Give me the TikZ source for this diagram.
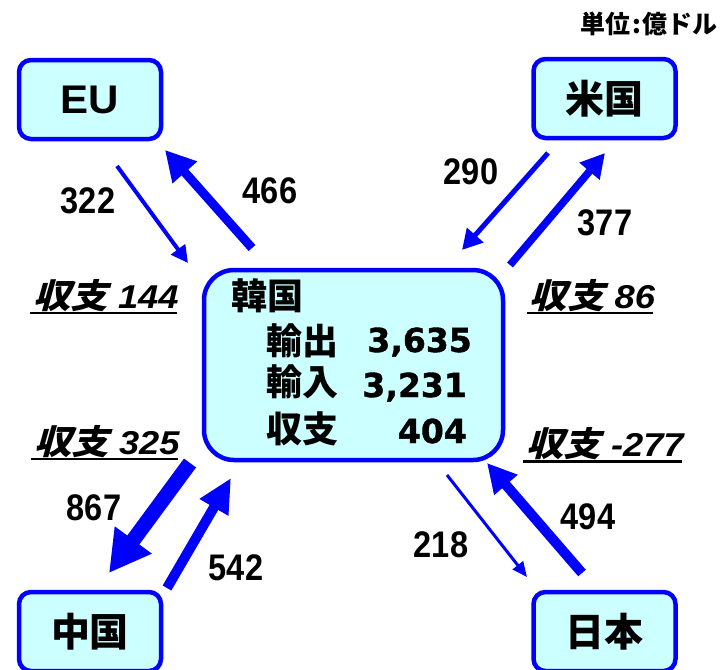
\documentclass[tikz,border=0pt]{standalone}
\usepackage{fontspec}
\usepackage{graphicx}
\setmainfont{Noto Sans CJK JP}
\newfontfamily\jpit{Noto Sans CJK JP}[FakeSlant=0.25]
\newfontfamily\lsans{Liberation Sans}
\newfontfamily\dvs{DejaVu Sans}[BoldFeatures={FakeBold=1.2}]
\usetikzlibrary{arrows.meta}
\definecolor{bblue}{HTML}{0000FF}
\definecolor{lcyan}{HTML}{CCFFFF}
\tikzset{
  cbox/.style={draw=bblue, line width=4.5pt, fill=lcyan, rounded corners=12pt,
    minimum width=142pt, minimum height=79pt, inner sep=0pt,
    font=\fontsize{39}{40}\selectfont\bfseries},
  kbox/.style={draw=bblue, line width=4.5pt, fill=lcyan, rounded corners=30pt,
    minimum width=299pt, minimum height=190pt, inner sep=0pt},
  ktxt/.style={inner sep=0pt, font=\fontsize{36}{38}\selectfont\bfseries},
  knum/.style={inner sep=0pt, font=\dvs\bfseries\fontsize{33}{36}\selectfont},
  lab/.style={inner sep=0pt, font=\lsans\bfseries\fontsize{37}{40}\selectfont},
  bal/.style={inner sep=0pt, font=\fontsize{34}{36}\selectfont},
  arr/.style={draw=bblue, fill=bblue},
  uline/.style={line width=2.5pt, black}
}
\newcommand{\nlab}[1]{\scalebox{0.88}[1]{#1}}
\newcommand{\balt}[1]{\scalebox{1.1}[1]{{\jpit\bfseries 収支}\hspace{9pt}{\lsans\bfseries\itshape\fontsize{33}{35}\selectfont #1}}}
\begin{document}
\begin{tikzpicture}[x=1pt,y=-1pt]
\useasboundingbox (0,0) rectangle (724,670);

% unit
\node[anchor=east, inner sep=0pt, font=\fontsize{25}{27}\selectfont\bfseries] (unit) at (718,24) {単位\hspace{2pt}:\hspace{2pt}億ドル};

% boxes
\node[cbox, font=\lsans\bfseries\fontsize{40}{40}\selectfont] (eu) at (90,99.5) {\scalebox{1.05}[1]{EU}\hspace{11pt}};
\node[cbox] (us) at (604.5,98.5) {米国};
\node[cbox] (cn) at (90,631.5) {中国};
\node[cbox] (jp) at (604.5,631.5) {日本};
\node[kbox] (kr) at (353.5,365) {};

% Korea text
\node[ktxt, anchor=west] (krt) at (231,296) {韓国};
\node[ktxt, anchor=west] (ex) at (266,341) {輸出};
\node[ktxt, anchor=west] (im) at (266,382) {輸入};
\node[ktxt, anchor=west] (bl) at (266,429) {収支};
\node[knum, anchor=base east] (exv) at (472,352) {3,635};
\node[knum, anchor=base east] (imv) at (467,397) {3,231};
\node[knum, anchor=base east] (blv) at (467,443) {404};

% arrow end points
\coordinate (t322) at (117,166); \coordinate (h322) at (188,263);
\coordinate (t466) at (252,248); \coordinate (h466) at (165,150);
\coordinate (t290) at (548,153); \coordinate (h290) at (462,250);
\coordinate (t377) at (510,265); \coordinate (h377) at (605,153);
\coordinate (t867) at (190,463); \coordinate (h867) at (109,573);
\coordinate (t542) at (167,588); \coordinate (h542) at (231,478);
\coordinate (t218) at (447,475); \coordinate (h218) at (527,577);
\coordinate (t494) at (582,573); \coordinate (h494) at (487,463);

\draw[arr, line width=4pt, -{Triangle[length=17pt,width=17pt]}] (t322) -- (h322);
\draw[arr, line width=9pt, -{Triangle[length=30pt,width=31pt]}] (t466) -- (h466);
\draw[arr, line width=5pt, -{Triangle[length=20pt,width=21pt]}] (t290) -- (h290);
\draw[arr, line width=7.5pt, -{Triangle[length=24pt,width=25pt]}] (t377) -- (h377);
\draw[arr, line width=15pt, -{Triangle[length=41pt,width=43pt]}] (t867) -- (h867);
\draw[arr, line width=10pt, -{Triangle[length=34pt,width=31pt]}] (t542) -- (h542);
\draw[arr, line width=3pt, -{Triangle[length=15pt,width=13pt]}] (t218) -- (h218);
\draw[arr, line width=10pt, -{Triangle[length=29pt,width=29pt]}] (t494) -- (h494);

% arrow labels
\node[lab] (l322) at (88,201) {\nlab{322}};
\node[lab] (l466) at (270,191) {\nlab{466}};
\node[lab] (l290) at (471,172) {\nlab{290}};
\node[lab] (l377) at (605,223) {\nlab{377}};
\node[lab] (l867) at (94,508) {\nlab{867}};
\node[lab] (l542) at (236,568) {\nlab{542}};
\node[lab] (l218) at (441,545) {\nlab{218}};
\node[lab] (l494) at (588,517) {\nlab{494}};

% balances
\node[bal] (b144) at (106,295.5) {\balt{144}};
\node[bal] (b86) at (592.5,295.5) {\balt{86}};
\node[bal] (b325) at (107,441.5) {\balt{325}};
\node[bal] (b277) at (605,444) {\balt{-277}};
\draw[uline] ([shift={(-3,1)}]b144.south west) -- ([shift={(-2,1)}]b144.south east);
\draw[uline] ([shift={(-3,1)}]b86.south west) -- ([shift={(-2,1)}]b86.south east);
\draw[uline] ([shift={(-3,1)}]b325.south west) -- ([shift={(-2,1)}]b325.south east);
\draw[uline] ([shift={(-3,1)}]b277.south west) -- ([shift={(-2,1)}]b277.south east);
\end{tikzpicture}
\end{document}
